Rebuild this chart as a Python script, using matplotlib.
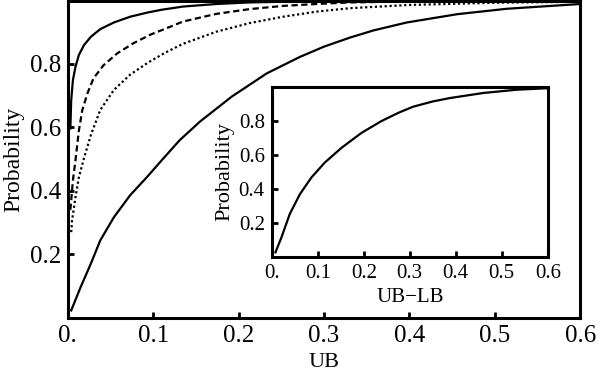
import numpy as np
import matplotlib.pyplot as plt
from matplotlib.ticker import FuncFormatter

plt.rcParams['font.family'] = ['Liberation Serif', 'DejaVu Serif']

# main panel: probability vs UB, four curves
ub_top = [0.003, 0.004, 0.006, 0.009, 0.013, 0.019, 0.027, 0.038, 0.054, 0.073, 0.093, 0.11,
          0.135, 0.174, 0.213, 0.25, 0.3, 0.4, 0.5, 0.6]
p_top = [0.596, 0.685, 0.748, 0.79, 0.827, 0.858, 0.884, 0.908, 0.929, 0.947, 0.96, 0.969,
         0.979, 0.987, 0.992, 0.994, 0.996, 0.997, 0.998, 0.998]

ub_dash = [0.003, 0.004, 0.006, 0.009, 0.013, 0.017, 0.023, 0.03, 0.042, 0.058, 0.077, 0.097,
           0.113, 0.135, 0.174, 0.213, 0.252, 0.291, 0.331, 0.4, 0.5, 0.6]
p_dash = [0.34, 0.37, 0.433, 0.496, 0.59, 0.654, 0.706, 0.753, 0.795, 0.832, 0.864, 0.891,
          0.908, 0.932, 0.956, 0.971, 0.981, 0.987, 0.992, 0.995, 0.997, 0.998]

ub_dot = [0.004, 0.005, 0.009, 0.013, 0.019, 0.027, 0.038, 0.054, 0.073, 0.094, 0.114, 0.135,
          0.174, 0.213, 0.252, 0.291, 0.331, 0.4, 0.5, 0.6]
p_dot = [0.27, 0.307, 0.38, 0.443, 0.503, 0.575, 0.654, 0.717, 0.765, 0.803, 0.834, 0.862,
         0.90, 0.927, 0.947, 0.963, 0.974, 0.984, 0.991, 0.994]

ub_low = [0.004, 0.015, 0.027, 0.038, 0.054, 0.073, 0.093, 0.11, 0.131, 0.155, 0.192, 0.233,
          0.272, 0.3, 0.331, 0.358, 0.397, 0.456, 0.514, 0.6]
p_low = [0.024, 0.097, 0.171, 0.244, 0.317, 0.386, 0.444, 0.496, 0.559, 0.618, 0.696, 0.769,
         0.821, 0.853, 0.882, 0.904, 0.929, 0.955, 0.972, 0.987]

# inset: probability vs UB-LB
d_ins = [0.008, 0.021, 0.039, 0.061, 0.086, 0.115, 0.152, 0.195, 0.238, 0.275, 0.307,
         0.35, 0.387, 0.46, 0.532, 0.6]
p_ins = [0.027, 0.115, 0.252, 0.369, 0.467, 0.555, 0.643, 0.73, 0.799, 0.848, 0.884,
         0.915, 0.935, 0.965, 0.984, 0.993]

xticks = [0, 0.1, 0.2, 0.3, 0.4, 0.5, 0.6]
yticks = [0.2, 0.4, 0.6, 0.8]


def fmt(v, pos):
    return '0.' if abs(v) < 1e-9 else '%.1f' % v


def style(ax, ticksize):
    ax.set_xticks(xticks)
    ax.set_yticks(yticks)
    ax.xaxis.set_major_formatter(FuncFormatter(fmt))
    ax.yaxis.set_major_formatter(FuncFormatter(fmt))
    ax.tick_params(direction='in', length=4, width=2, labelsize=ticksize,
                   top=False, right=False, pad=5)
    for s in ax.spines.values():
        s.set_linewidth(2.2)


fig = plt.figure(figsize=(6, 3.8), dpi=100)
ax = fig.add_axes([0.113, 0.163, 0.854, 0.834])
ax.plot(ub_top, p_top, color='black', lw=1.6)
ax.plot(ub_dash, p_dash, color='black', lw=1.6, ls=(0, (2.8, 1.6)))
ax.plot(ub_dot, p_dot, color='black', lw=1.6, ls=(0, (1, 1.2)))
ax.plot(ub_low, p_low, color='black', lw=1.6)
ax.set_xlim(0, 0.6)
ax.set_ylim(0, 0.996)
style(ax, 18)
ax.set_xlabel('UB', fontsize=16, labelpad=4)
ax.set_ylabel('Probability', fontsize=17, labelpad=4)

ins = fig.add_axes([0.453, 0.324, 0.46, 0.447])
ins.plot(d_ins, p_ins, color='black', lw=1.6)
ins.set_xlim(0, 0.6)
ins.set_ylim(0, 1.0)
style(ins, 15)
ins.set_xlabel('UB\u2212LB', fontsize=15, labelpad=4)
ins.set_ylabel('Probability', fontsize=16, labelpad=3)

fig.savefig('out.png', dpi=100)
